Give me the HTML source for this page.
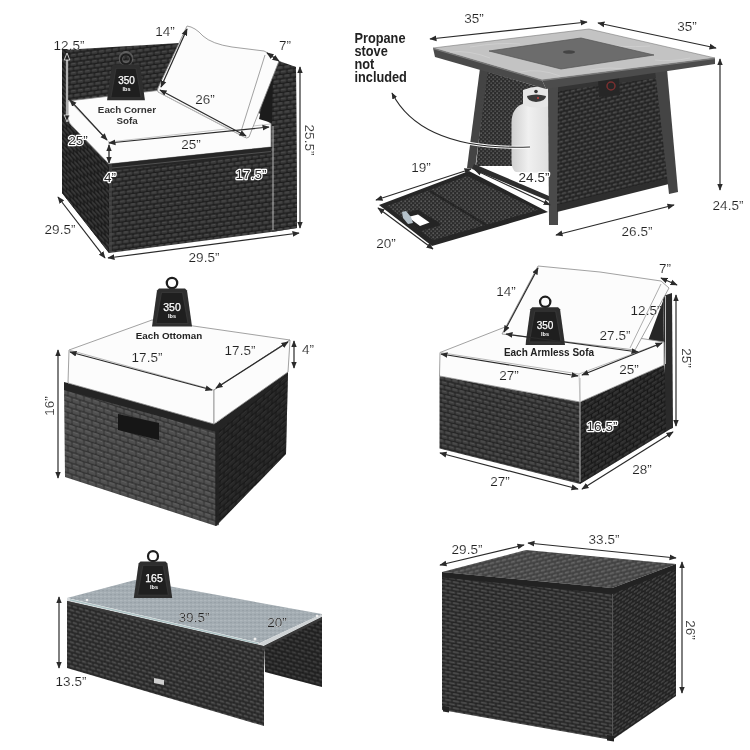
<!DOCTYPE html>
<html><head><meta charset="utf-8">
<style>
html,body{margin:0;padding:0;background:#fff;}
svg{display:block;will-change:transform;}
text{font-family:"Liberation Sans",sans-serif;fill:#222;}
.d{font-size:13.5px;stroke:#fff;stroke-width:0.15px;}
.w{fill:#fff;}
.o{fill:#2a2a2a;stroke:#fff;stroke-width:2.4px;paint-order:stroke;stroke-linejoin:round;}
.ln{stroke:#2a2a2a;stroke-width:1.2;fill:none;}
.cu{fill:#fcfcfc;stroke:#8a8a8a;stroke-width:0.8;stroke-linejoin:round;}
.lb{font-size:9.8px;font-weight:bold;fill:#333;}
</style></head>
<body>
<svg width="750" height="750" viewBox="0 0 750 750">
<defs>
<pattern id="wkA" width="7" height="9.0" patternUnits="userSpaceOnUse" patternTransform="skewY(-7.7)">
<rect width="7" height="9.0" fill="#1d1d1d"/>
<rect x="0.4" y="0.5" width="6.2" height="3.3" rx="1" fill="#3a3a3a"/>
<rect x="3.9" y="5.0" width="6.2" height="3.3" rx="1" fill="#3a3a3a"/>
<rect x="-3.1" y="5.0" width="6.2" height="3.3" rx="1" fill="#3a3a3a"/>
<rect x="1.2" y="1.0" width="4" height="1" fill="#4b4b4b"/>
<rect x="4.7" y="5.5" width="4" height="1" fill="#4b4b4b"/>
<rect x="-2.3" y="5.5" width="4" height="1" fill="#4b4b4b"/>
</pattern>
<pattern id="wkAL" width="7" height="9.0" patternUnits="userSpaceOnUse" patternTransform="skewY(45)">
<rect width="7" height="9.0" fill="#1a1a1a"/>
<rect x="0.4" y="0.5" width="6.2" height="3.3" rx="1" fill="#373737"/>
<rect x="3.9" y="5.0" width="6.2" height="3.3" rx="1" fill="#373737"/>
<rect x="-3.1" y="5.0" width="6.2" height="3.3" rx="1" fill="#373737"/>
<rect x="1.2" y="1.0" width="4" height="1" fill="#484848"/>
<rect x="4.7" y="5.5" width="4" height="1" fill="#484848"/>
<rect x="-2.3" y="5.5" width="4" height="1" fill="#484848"/>
</pattern>
<pattern id="wkO" width="8" height="11.0" patternUnits="userSpaceOnUse" patternTransform="skewY(18)">
<rect width="8" height="11.0" fill="#323232"/>
<rect x="0.4" y="0.5" width="7.2" height="4.3" rx="1" fill="#4f4f4f"/>
<rect x="4.4" y="6.0" width="7.2" height="4.3" rx="1" fill="#4f4f4f"/>
<rect x="-3.6" y="6.0" width="7.2" height="4.3" rx="1" fill="#4f4f4f"/>
<rect x="1.2" y="1.0" width="5" height="1" fill="#606060"/>
<rect x="5.2" y="6.5" width="5" height="1" fill="#606060"/>
<rect x="-2.8" y="6.5" width="5" height="1" fill="#606060"/>
</pattern>
<pattern id="wkOR" width="8" height="11.0" patternUnits="userSpaceOnUse" patternTransform="skewY(-40)">
<rect width="8" height="11.0" fill="#323232"/>
<rect x="0.4" y="0.5" width="7.2" height="4.3" rx="1" fill="#4f4f4f"/>
<rect x="4.4" y="6.0" width="7.2" height="4.3" rx="1" fill="#4f4f4f"/>
<rect x="-3.6" y="6.0" width="7.2" height="4.3" rx="1" fill="#4f4f4f"/>
<rect x="1.2" y="1.0" width="5" height="1" fill="#606060"/>
<rect x="5.2" y="6.5" width="5" height="1" fill="#606060"/>
<rect x="-2.8" y="6.5" width="5" height="1" fill="#606060"/>
</pattern>
<pattern id="wkS" width="7" height="9.0" patternUnits="userSpaceOnUse" patternTransform="skewY(14)">
<rect width="7" height="9.0" fill="#242424"/>
<rect x="0.4" y="0.5" width="6.2" height="3.3" rx="1" fill="#414141"/>
<rect x="3.9" y="5.0" width="6.2" height="3.3" rx="1" fill="#414141"/>
<rect x="-3.1" y="5.0" width="6.2" height="3.3" rx="1" fill="#414141"/>
<rect x="1.2" y="1.0" width="4" height="1" fill="#525252"/>
<rect x="4.7" y="5.5" width="4" height="1" fill="#525252"/>
<rect x="-2.3" y="5.5" width="4" height="1" fill="#525252"/>
</pattern>
<pattern id="wkSR" width="7" height="9.0" patternUnits="userSpaceOnUse" patternTransform="skewY(-31)">
<rect width="7" height="9.0" fill="#242424"/>
<rect x="0.4" y="0.5" width="6.2" height="3.3" rx="1" fill="#414141"/>
<rect x="3.9" y="5.0" width="6.2" height="3.3" rx="1" fill="#414141"/>
<rect x="-3.1" y="5.0" width="6.2" height="3.3" rx="1" fill="#414141"/>
<rect x="1.2" y="1.0" width="4" height="1" fill="#525252"/>
<rect x="4.7" y="5.5" width="4" height="1" fill="#525252"/>
<rect x="-2.3" y="5.5" width="4" height="1" fill="#525252"/>
</pattern>
<pattern id="wkC" width="6" height="8" patternUnits="userSpaceOnUse" patternTransform="skewY(16)">
<rect width="6" height="8" fill="#232323"/>
<rect x="0.4" y="0.5" width="5.2" height="2.8" rx="1" fill="#404040"/>
<rect x="3.4" y="4.5" width="5.2" height="2.8" rx="1" fill="#404040"/>
<rect x="-2.6" y="4.5" width="5.2" height="2.8" rx="1" fill="#404040"/>
<rect x="1.2" y="1.0" width="3" height="1" fill="#515151"/>
<rect x="4.2" y="5.0" width="3" height="1" fill="#515151"/>
<rect x="-1.8" y="5.0" width="3" height="1" fill="#515151"/>
</pattern>
<pattern id="wkCR" width="6" height="8" patternUnits="userSpaceOnUse" patternTransform="skewY(15)">
<rect width="6" height="8" fill="#232323"/>
<rect x="0.4" y="0.5" width="5.2" height="2.8" rx="1" fill="#404040"/>
<rect x="3.4" y="4.5" width="5.2" height="2.8" rx="1" fill="#404040"/>
<rect x="-2.6" y="4.5" width="5.2" height="2.8" rx="1" fill="#404040"/>
<rect x="1.2" y="1.0" width="3" height="1" fill="#515151"/>
<rect x="4.2" y="5.0" width="3" height="1" fill="#515151"/>
<rect x="-1.8" y="5.0" width="3" height="1" fill="#515151"/>
</pattern>
<pattern id="wkB" width="8" height="7.0" patternUnits="userSpaceOnUse" patternTransform="skewY(10)">
<rect width="8" height="7.0" fill="#232323"/>
<rect x="0.4" y="0.5" width="7.2" height="2.3" rx="1" fill="#404040"/>
<rect x="4.4" y="4.0" width="7.2" height="2.3" rx="1" fill="#404040"/>
<rect x="-3.6" y="4.0" width="7.2" height="2.3" rx="1" fill="#404040"/>
<rect x="1.2" y="1.0" width="5" height="1" fill="#515151"/>
<rect x="5.2" y="4.5" width="5" height="1" fill="#515151"/>
<rect x="-2.8" y="4.5" width="5" height="1" fill="#515151"/>
</pattern>
<pattern id="wkBR" width="6" height="7.0" patternUnits="userSpaceOnUse" patternTransform="skewY(-34)">
<rect width="6" height="7.0" fill="#232323"/>
<rect x="0.4" y="0.5" width="5.2" height="2.3" rx="1" fill="#404040"/>
<rect x="3.4" y="4.0" width="5.2" height="2.3" rx="1" fill="#404040"/>
<rect x="-2.6" y="4.0" width="5.2" height="2.3" rx="1" fill="#404040"/>
<rect x="1.2" y="1.0" width="3" height="1" fill="#515151"/>
<rect x="4.2" y="4.5" width="3" height="1" fill="#515151"/>
<rect x="-1.8" y="4.5" width="3" height="1" fill="#515151"/>
</pattern>
<pattern id="wkBL" width="6" height="8" patternUnits="userSpaceOnUse" patternTransform="skewY(-14)">
<rect width="6" height="8" fill="#282828"/>
<rect x="0.4" y="0.5" width="5.2" height="2.8" rx="1" fill="#454545"/>
<rect x="3.4" y="4.5" width="5.2" height="2.8" rx="1" fill="#454545"/>
<rect x="-2.6" y="4.5" width="5.2" height="2.8" rx="1" fill="#454545"/>
<rect x="1.2" y="1.0" width="3" height="1" fill="#565656"/>
<rect x="4.2" y="5.0" width="3" height="1" fill="#565656"/>
<rect x="-1.8" y="5.0" width="3" height="1" fill="#565656"/>
</pattern>
<pattern id="wkF" width="6" height="8" patternUnits="userSpaceOnUse" patternTransform="skewY(-14)">
<rect width="6" height="8" fill="#1f1f1f"/>
<rect x="0.4" y="0.5" width="5.2" height="2.8" rx="1" fill="#3c3c3c"/>
<rect x="3.4" y="4.5" width="5.2" height="2.8" rx="1" fill="#3c3c3c"/>
<rect x="-2.6" y="4.5" width="5.2" height="2.8" rx="1" fill="#3c3c3c"/>
<rect x="1.2" y="1.0" width="3" height="1" fill="#4d4d4d"/>
<rect x="4.2" y="5.0" width="3" height="1" fill="#4d4d4d"/>
<rect x="-1.8" y="5.0" width="3" height="1" fill="#4d4d4d"/>
</pattern>
<pattern id="hc" width="4" height="4" patternUnits="userSpaceOnUse">
<rect width="4" height="4" fill="#2c2c2c"/>
<circle cx="1.2" cy="1.2" r="0.95" fill="#595959"/>
<circle cx="3.2" cy="3.2" r="0.95" fill="#4e4e4e"/>
</pattern>
<pattern id="gl" width="4" height="4" patternUnits="userSpaceOnUse">
<rect width="4" height="4" fill="#a3acb2"/>
<rect x="0" y="0" width="2.5" height="1.2" fill="#b0b8bd"/>
<rect x="2" y="2" width="2.5" height="1.2" fill="#98a1a7"/>
</pattern>
<marker id="ar" viewBox="0 0 10 10" refX="9" refY="5" markerWidth="6" markerHeight="6" orient="auto-start-reverse">
<path d="M0,1 L10,5 L0,9 z" fill="#2a2a2a"/>
</marker>
<marker id="aw" viewBox="0 0 10 10" refX="9" refY="5" markerWidth="6" markerHeight="6" orient="auto-start-reverse">
<path d="M0,1 L10,5 L0,9 z" fill="#eee"/>
</marker>
<symbol id="wt" viewBox="0 0 40 52">
<circle cx="20" cy="8.5" r="5.2" fill="none" stroke="#1e1e1e" stroke-width="2.3"/>
<polygon points="7,14 33,14 35,16 40,52 0,52 5,16" fill="#2e2e2e"/>
<polygon points="9.5,18 30.5,18 36,49 4,49" fill="#1f1f1f" stroke="#3a3a3a" stroke-width="0.8"/>
</symbol>
</defs>
<g id="corner">
<polygon points="62,50 180,43 240,58 279,61 296,67 297,228 271,232 109,253 62,193" fill="url(#wkA)"/>
<polygon points="62,50 68,50 68,120 109,160 109,253 62,193" fill="url(#wkAL)"/>
<polygon points="62,50 70,50 70,120 109,164 109,253 62,193" fill="#000" opacity="0.12"/>
<polygon points="273,62 296,67 297,228 272,232" fill="url(#wkA)"/>
<!-- seat cushion -->
<path class="cu" d="M68,101 L230,82 L262,116 L271,124 L271,147 L109,164 L74,128 Q68,123 68,118 Z"/>
<polyline points="109,142 271,124" fill="none" stroke="#bbb" stroke-width="0.8"/>
<polyline points="68,100 109,142 109,164" fill="none" stroke="#bbb" stroke-width="0.8"/>
<polygon points="109,164 271,147 271,154 109,171" fill="#262626"/>
<line x1="112" y1="168" x2="271" y2="151.5" stroke="#5a5a5a" stroke-width="0.8"/>
<polygon points="109,164 112,164 112,252 109,253" fill="#4a4a4a" opacity="0.6"/>
<!-- arm inner face -->
<polygon points="278,62 273,77 272,123 259,119 266,90" fill="#1c1c1c"/>
<!-- back cushion -->
<path class="cu" d="M187,26 Q195,27 203,36 Q212,44 232,47 L264,51 Q274,55 279,61 L249,137 Q247,139 244,137 L158,92 Q157,90 158,88 Z"/>
<path d="M265,55 L241.5,130 L245,136" fill="none" stroke="#8a8a8a" stroke-width="0.8"/>
<path d="M160,93 L243,136" fill="none" stroke="#bbb" stroke-width="0.8"/>
<!-- weight icon -->
<circle cx="126" cy="58.5" r="5.2" fill="none" stroke="#777" stroke-width="4.5" opacity="0.6"/>
<use href="#wt" x="106.2" y="51.3" width="39.6" height="49.3" preserveAspectRatio="none"/>
<text x="126.5" y="84" text-anchor="middle" font-size="10" class="w" font-weight="normal" stroke="#fff" stroke-width="0.25">350</text>
<text x="126.5" y="91" text-anchor="middle" font-size="5.5" class="w" font-weight="bold">lbs</text>
<text x="127" y="113" text-anchor="middle" class="lb">Each Corner</text>
<text x="127" y="123.5" text-anchor="middle" class="lb">Sofa</text>
<!-- dims -->
<line x1="67" y1="58" x2="67" y2="117" stroke="#e8e8e8" stroke-width="2.2"/>
<line x1="67" y1="58" x2="67" y2="117" stroke="#444" stroke-width="0.7"/>
<path d="M64.2,60 L67,53 L69.8,60 Z M64.2,115 L67,122 L69.8,115 Z" fill="#222" stroke="#eee" stroke-width="0.8"/>
<line class="ln" x1="70" y1="100" x2="107" y2="140" marker-start="url(#ar)" marker-end="url(#ar)"/>
<line class="ln" x1="109" y1="143" x2="269" y2="127" marker-start="url(#ar)" marker-end="url(#ar)"/>
<line class="ln" x1="109" y1="145" x2="109" y2="163" marker-start="url(#ar)" marker-end="url(#ar)"/>
<line class="ln" x1="160" y1="90" x2="246" y2="136" marker-start="url(#ar)" marker-end="url(#ar)"/>
<line class="ln" x1="187" y1="29" x2="161" y2="87" marker-start="url(#ar)" marker-end="url(#ar)"/>
<line class="ln" x1="267" y1="53" x2="279" y2="61" marker-start="url(#ar)" marker-end="url(#ar)"/>
<line x1="273" y1="126" x2="273" y2="230" stroke="#bbb" stroke-width="1"/>
<line class="ln" x1="300" y1="67" x2="300" y2="228" marker-start="url(#ar)" marker-end="url(#ar)"/>
<line class="ln" x1="58" y1="197" x2="105" y2="258" marker-start="url(#ar)" marker-end="url(#ar)"/>
<line class="ln" x1="108" y1="258" x2="299" y2="233" marker-start="url(#ar)" marker-end="url(#ar)"/>
<text class="d" x="69" y="50" text-anchor="middle">12.5”</text>
<text class="d" x="165" y="36" text-anchor="middle">14”</text>
<text class="d" x="285" y="50" text-anchor="middle">7”</text>
<text class="d" x="205" y="104" text-anchor="middle">26”</text>
<text class="d" x="191" y="149" text-anchor="middle">25”</text>
<text class="d o" x="78" y="145" text-anchor="middle">25”</text>
<text class="d o" x="110" y="182" text-anchor="middle">4”</text>
<text class="d o" x="251" y="179" text-anchor="middle">17.5”</text>
<text class="d" x="60" y="234" text-anchor="middle">29.5”</text>
<text class="d" x="204" y="262" text-anchor="middle">29.5”</text>
<text class="d" transform="translate(305,140) rotate(90)" text-anchor="middle">25.5”</text>
</g>
<g id="fire">
<polygon points="486,71 549,90 549,166 476,166" fill="url(#hc)"/>
<polygon points="480,68 488,70 475,169 467,168" fill="#444"/>
<polygon points="474,164 549,196 549,201 472,169" fill="#2e2e2e"/>
<!-- tank -->
<defs><linearGradient id="tg" x1="0" x2="1" y1="0" y2="0"><stop offset="0" stop-color="#cfcfcf"/><stop offset="0.45" stop-color="#f0f0f0"/><stop offset="1" stop-color="#dedede"/></linearGradient></defs>
<path d="M511.5,122 Q512,106 526,103 L549,103 L549,173 L516,172 Q511.5,170 511.5,160 Z" fill="url(#tg)"/>
<path d="M523,90 Q536,84 549,88 L549,106 Q536,110 523,105 Z" fill="#e6e6e6"/>
<path d="M527,96 Q536,93 546,96 Q546,101 536,102 Q527,101 527,96 Z" fill="#3a3a3a"/>
<circle cx="536" cy="91.5" r="1.8" fill="#333"/>
<circle cx="538" cy="98" r="1" fill="#c44"/>
<!-- front leg -->
<polygon points="548,88 559,86 558,225 549,225" fill="#4a4a4a"/>
<!-- right panel -->
<polygon points="558,86 657,73 669,183 557,211" fill="url(#wkF)"/>
<polygon points="558,84 657,71 658,78 558,91" fill="#343434"/>
<polygon points="557,205 669,178 669,184 557,212" fill="#2e2e2e"/>
<polygon points="598,80 619,78 620,95 599,97" fill="#262626"/>
<circle cx="611" cy="86" r="4" fill="none" stroke="#7a3030" stroke-width="1.5"/>
<polygon points="655,70 667,69 678,192 669,194" fill="#444"/>
<!-- top -->
<polygon points="433,48 589,29 715,58 542,80" fill="#c3c3c3" stroke="#7a7a7a" stroke-width="0.6" stroke-linejoin="round"/>
<path d="M450,52 Q470,50 490,58 M520,72 Q540,68 560,76 M600,44 Q620,48 650,46 M655,60 Q670,62 690,58 M470,47 Q500,42 520,44 M590,70 Q610,66 630,70" stroke="#cecece" stroke-width="1" fill="none"/>
<polygon points="433,48 542,80 546,89 435,57" fill="#4a4a4a"/>
<polygon points="542,80 715,58 715,64 546,89" fill="#4c4c4c"/>
<line x1="433" y1="48.6" x2="542" y2="80.6" stroke="#888" stroke-width="0.8"/>
<line x1="542" y1="80.6" x2="715" y2="58.6" stroke="#888" stroke-width="0.8"/>
<polygon points="489,51 581,38 654,55 561,69" fill="#6c6c6c" stroke="#555" stroke-width="0.7"/>
<ellipse cx="569" cy="52" rx="6" ry="1.8" fill="#444"/>
<!-- door -->
<polygon points="469,171 379,205 432,246 548,212" fill="#262626"/>
<polygon points="467,176 387,206 433,240 538,210" fill="url(#hc)"/>
<line x1="430" y1="191" x2="488" y2="226" stroke="#262626" stroke-width="2.5"/>
<polygon points="405,213 418,209.5 433,219 438,221.5 441,225 421,231 405,220" fill="#242424"/>
<polygon points="408,217 418,214.5 429.5,222.5 420,226" fill="#fff"/>
<polygon points="402,212 406,211 411,217 413,223 408,224 403,218" fill="#b4c0c8"/>
<!-- arrow -->
<path d="M392,93 C410,128 450,150 530,147" fill="none" stroke="#fff" stroke-width="3"/>
<path d="M392,93 C410,128 450,150 530,147" fill="none" stroke="#2a2a2a" stroke-width="1.1" marker-start="url(#ar)"/>
<!-- dims -->
<line class="ln" x1="430" y1="39" x2="587" y2="22" marker-start="url(#ar)" marker-end="url(#ar)"/>
<line class="ln" x1="598" y1="23" x2="716" y2="48" marker-start="url(#ar)" marker-end="url(#ar)"/>
<line class="ln" x1="720" y1="59" x2="720" y2="190" marker-start="url(#ar)" marker-end="url(#ar)"/>
<line class="ln" x1="376" y1="200" x2="471" y2="169" marker-start="url(#ar)" marker-end="url(#ar)"/>
<line class="ln" x1="475" y1="170" x2="550" y2="205" marker-start="url(#ar)" marker-end="url(#ar)"/>
<line class="ln" x1="378" y1="208" x2="433" y2="249" marker-start="url(#ar)" marker-end="url(#ar)"/>
<line class="ln" x1="556" y1="235" x2="674" y2="205" marker-start="url(#ar)" marker-end="url(#ar)"/>
<text class="d" x="474" y="23" text-anchor="middle">35”</text>
<text class="d" x="687" y="31" text-anchor="middle">35”</text>
<text class="d" x="728" y="210" text-anchor="middle">24.5”</text>
<text class="d" x="421" y="172" text-anchor="middle">19”</text>
<text class="d o" x="534" y="182" text-anchor="middle">24.5”</text>
<text class="d" x="386" y="248" text-anchor="middle">20”</text>
<text class="d" x="637" y="236" text-anchor="middle">26.5”</text>
<g transform="translate(354.5,0) scale(0.85,1)">
<text x="0" y="42.6" font-size="15" font-weight="bold" fill="#1a1a1a">Propane</text>
<text x="0" y="55.9" font-size="15" font-weight="bold" fill="#1a1a1a">stove</text>
<text x="0" y="68.9" font-size="15" font-weight="bold" fill="#1a1a1a">not</text>
<text x="0" y="82" font-size="15" font-weight="bold" fill="#1a1a1a">included</text>
</g>
</g>
<g id="ottoman">
<polygon points="64,383 216,427 216,526 65,477" fill="url(#wkO)"/>
<polygon points="216,427 288,372 286,454 216,526" fill="url(#wkOR)"/>
<polygon points="216,427 288,372 286,454 216,526" fill="#000" opacity="0.5"/>
<polygon points="215,428 219,426 219,525 215,526" fill="#222" opacity="0.7"/>
<polygon points="64,382 216,423 288,370 288,375 216,432 64,390" fill="#242424"/>
<polygon points="118,414 159,423 159,440 118,430" fill="#161616"/>
<polygon class="cu" points="69,350 152,320 290,340 214,390 214,424 68,383"/>
<polygon class="cu" points="214,390 290,340 288,372 214,424"/>
<polyline points="69,350 214,390" fill="none" stroke="#aaa" stroke-width="0.8"/>
<use href="#wt" x="152" y="273.5" width="40" height="54" preserveAspectRatio="none"/>
<text x="172" y="311" text-anchor="middle" font-size="10.5" class="w" font-weight="normal" stroke="#fff" stroke-width="0.25">350</text>
<text x="172" y="318" text-anchor="middle" font-size="5.5" class="w" font-weight="bold">lbs</text>
<text x="169" y="339" text-anchor="middle" font-size="9.8" font-weight="bold" fill="#333">Each Ottoman</text>
<line class="ln" x1="70" y1="352" x2="212" y2="390" marker-start="url(#ar)" marker-end="url(#ar)"/>
<line class="ln" x1="216" y1="388" x2="288" y2="342" marker-start="url(#ar)" marker-end="url(#ar)"/>
<line class="ln" x1="294" y1="341" x2="294" y2="368" marker-start="url(#ar)" marker-end="url(#ar)"/>
<line class="ln" x1="58" y1="350" x2="58" y2="478" marker-start="url(#ar)" marker-end="url(#ar)"/>
<text class="d" x="147" y="362" text-anchor="middle">17.5”</text>
<text class="d" x="240" y="355" text-anchor="middle">17.5”</text>
<text class="d" x="308" y="354" text-anchor="middle">4”</text>
<text class="d" transform="translate(54,406) rotate(-90)" text-anchor="middle">16”</text>
</g>
<g id="armless">
<polygon points="439.5,376 580,402 580,484 439.5,448.5" fill="url(#wkS)"/>
<polygon points="580,402 664,365 672,428 580,484" fill="url(#wkSR)"/>
<polygon points="580,402 664,365 672,428 580,484" fill="#000" opacity="0.3"/>
<polygon points="663,296 672,293 673,428 666,430" fill="#2a2a2a"/>
<polygon points="648,341 663,301 664,344" fill="#262626"/>
<polygon class="cu" points="440,352.5 523,320 664,342 664,365 580,402 439.5,376"/>
<polyline points="440,352.5 579,374 664,342" fill="none" stroke="#aaa" stroke-width="0.8"/>
<polyline points="579,374 580,402" fill="none" stroke="#bbb" stroke-width="0.8"/>
<polygon class="cu" points="538,266 600,272 661,281 669,288 635,350 502,334"/>
<polyline points="661,284 630,348" fill="none" stroke="#999" stroke-width="0.8"/>
<use href="#wt" x="525.4" y="293.3" width="39.6" height="51.7" preserveAspectRatio="none"/>
<text x="545" y="329" text-anchor="middle" font-size="10" class="w" font-weight="normal" stroke="#fff" stroke-width="0.25">350</text>
<text x="545" y="336" text-anchor="middle" font-size="5.5" class="w" font-weight="bold">lbs</text>
<text x="549" y="356" text-anchor="middle" font-size="10" font-weight="bold" fill="#333">Each Armless Sofa</text>
<line class="ln" x1="538" y1="268" x2="504" y2="332" marker-start="url(#ar)" marker-end="url(#ar)"/>
<line class="ln" x1="661" y1="278" x2="677" y2="285" marker-start="url(#ar)" marker-end="url(#ar)"/>
<line class="ln" x1="506" y1="334" x2="638" y2="352" marker-start="url(#ar)" marker-end="url(#ar)"/>
<line class="ln" x1="441" y1="354" x2="578" y2="376" marker-start="url(#ar)" marker-end="url(#ar)"/>
<line class="ln" x1="582" y1="375" x2="662" y2="343" marker-start="url(#ar)" marker-end="url(#ar)"/>
<line x1="665.5" y1="296" x2="665.5" y2="364" stroke="#bbb" stroke-width="1"/>
<line x1="580" y1="378" x2="580" y2="482" stroke="#bbb" stroke-width="1"/>
<line class="ln" x1="676" y1="295" x2="676" y2="426" marker-start="url(#ar)" marker-end="url(#ar)"/>
<line class="ln" x1="440" y1="453" x2="578" y2="489" marker-start="url(#ar)" marker-end="url(#ar)"/>
<line class="ln" x1="582" y1="489" x2="673" y2="432" marker-start="url(#ar)" marker-end="url(#ar)"/>
<text class="d" x="506" y="296" text-anchor="middle">14”</text>
<text class="d" x="665" y="273" text-anchor="middle">7”</text>
<text class="d" x="646" y="315" text-anchor="middle">12.5”</text>
<text class="d" x="615" y="340" text-anchor="middle">27.5”</text>
<text class="d" x="509" y="380" text-anchor="middle">27”</text>
<text class="d" x="629" y="374" text-anchor="middle">25”</text>
<text class="d o" x="602" y="431" text-anchor="middle">16.5”</text>
<text class="d" transform="translate(682,358) rotate(90)" text-anchor="middle">25”</text>
<text class="d" x="500" y="486" text-anchor="middle">27”</text>
<text class="d" x="642" y="474" text-anchor="middle">28”</text>
</g>
<g id="coffee">
<polygon points="264,644 322,614 322,687 265,672" fill="url(#wkCR)"/>
<polygon points="264,644 322,614 322,687 265,672" fill="#000" opacity="0.2"/>
<polygon points="67,600 264,646 264,726 67,668" fill="url(#wkC)"/>
<polygon points="67,598 135,580 322,614 260,643" fill="url(#gl)"/>
<polygon points="67,598 260,643 264,646 67,601" fill="#d4d8da"/>
<polygon points="67,601 264,646 264,648.5 67,603.5" fill="#3a3a3a"/>
<polygon points="260,643 322,614 322,617 264,646" fill="#cfd3d5"/>
<polygon points="264,646 322,617 322,619.5 264,648.5" fill="#3a3a3a"/>
<line x1="70" y1="599.8" x2="258" y2="643.6" stroke="#7aa" stroke-width="0.5"/>
<circle cx="87" cy="600" r="1.3" fill="#eee"/>
<circle cx="255" cy="639" r="1.5" fill="#eee"/>
<circle cx="317" cy="616" r="1.3" fill="#eee"/>
<circle cx="157" cy="592" r="1.2" fill="#eee"/>
<polygon points="154,678 164,680 164,685 154,683" fill="#d0d0d0"/>
<use href="#wt" x="133" y="548" width="40" height="50" preserveAspectRatio="none"/>
<text x="154" y="582" text-anchor="middle" font-size="10.5" class="w" font-weight="normal" stroke="#fff" stroke-width="0.25">165</text>
<text x="154" y="589" text-anchor="middle" font-size="5.5" class="w" font-weight="bold">lbs</text>
<line class="ln" x1="59" y1="597" x2="59" y2="668" marker-start="url(#ar)" marker-end="url(#ar)"/>
<text class="d" x="194" y="622" text-anchor="middle">39.5”</text>
<text class="d" x="277" y="627" text-anchor="middle">20”</text>
<text class="d" x="71" y="686" text-anchor="middle">13.5”</text>
</g>
<g id="box">
<polygon points="442,576 612,590 612,740 442,710" fill="url(#wkB)"/>
<polygon points="612,590 676,566 676,696 612,740" fill="url(#wkBR)"/>
<polygon points="612,590 676,566 676,696 612,740" fill="#000" opacity="0.1"/>
<polygon points="442,572 526,550 676,564 612,588" fill="url(#wkBL)"/>
<polygon points="442,572 526,550 676,564 612,588" fill="#fff" opacity="0.1"/>
<polygon points="442,572 612,588 676,564 676,569 612,594 442,577.5" fill="#222"/>
<line x1="612.5" y1="594" x2="612.5" y2="738" stroke="#5a5a5a" stroke-width="0.9"/>
<polygon points="443,706 449,707 449,712.5 443,711.5" fill="#222"/>
<polygon points="607,735 614,736 614,741.5 607,740.5" fill="#222"/>
<line class="ln" x1="440" y1="565" x2="524" y2="545" marker-start="url(#ar)" marker-end="url(#ar)"/>
<line class="ln" x1="528" y1="543" x2="676" y2="558" marker-start="url(#ar)" marker-end="url(#ar)"/>
<line class="ln" x1="682" y1="562" x2="682" y2="693" marker-start="url(#ar)" marker-end="url(#ar)"/>
<text class="d" x="467" y="554" text-anchor="middle">29.5”</text>
<text class="d" x="604" y="544" text-anchor="middle">33.5”</text>
<text class="d" transform="translate(686,630) rotate(90)" text-anchor="middle">26”</text>
</g>
</svg>
</body></html>
